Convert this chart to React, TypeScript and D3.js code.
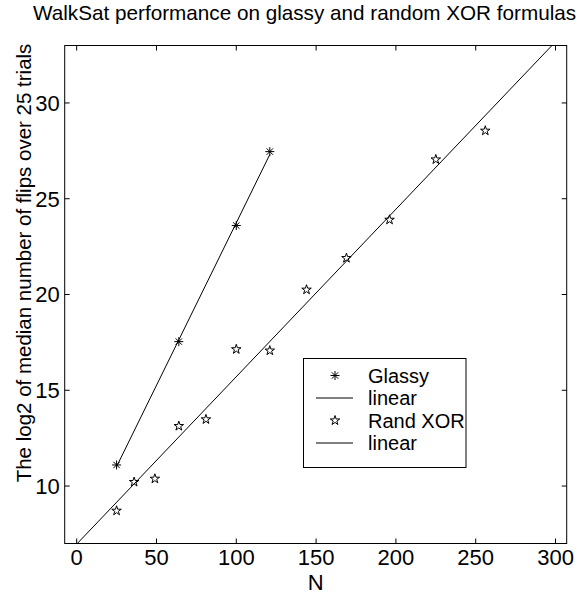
import React, { useEffect, useRef } from 'react';
import * as d3 from 'd3';

// N values and log2 median flips
const glassyN = [25, 64, 100, 121];
const glassyFlips = [11.1, 17.54, 23.6, 27.46];

const xorN = [25, 36, 49, 64, 81, 100, 121, 144, 169, 196, 225, 256];
const xorFlips = [8.71, 10.21, 10.38, 13.13, 13.48, 17.14, 17.07, 20.25, 21.9, 23.9, 27.05, 28.55];

const xTicks = [0, 50, 100, 150, 200, 250, 300];
const yTicks = [10, 15, 20, 25, 30];

const legendItems = ['Glassy', 'linear', 'Rand XOR', 'linear'];

const width = 579;
const height = 592;

const plotLeft = 64.7;
const plotRight = 566.7;
const plotTop = 45.5;
const plotBottom = 543.5;

const fontFamily = '"Liberation Sans", Arial, Helvetica, sans-serif';

// least squares fit
const linearFit = (xs: number[], ys: number[]) => {
    const mx = d3.mean(xs) as number;
    const my = d3.mean(ys) as number;
    const sxy = d3.sum(xs, (x, i) => (x - mx) * (ys[i] - my));
    const sxx = d3.sum(xs, (x) => (x - mx) * (x - mx));
    const slope = sxy / sxx;
    return { slope, intercept: my - slope * mx };
};

// matlab style '*' marker: a plus and a cross
const asteriskSymbol = {
    draw(context: d3.Path, size: number) {
        const r = Math.sqrt(size) / 2;
        const d = r * Math.SQRT1_2;
        context.moveTo(-r, 0); context.lineTo(r, 0);
        context.moveTo(0, -r); context.lineTo(0, r);
        context.moveTo(-d, -d); context.lineTo(d, d);
        context.moveTo(-d, d); context.lineTo(d, -d);
    }
};

const App: React.FC = () => {
    const svgRef = useRef<SVGSVGElement | null>(null);

    useEffect(() => {
        const svg = d3.select(svgRef.current);
        svg.selectAll('*').remove();

        const x = d3.scaleLinear().domain([-7.5, 307]).range([plotLeft, plotRight]);
        const y = d3.scaleLinear().domain([7, 33]).range([plotBottom, plotTop]);

        svg.append('rect').attr('width', width).attr('height', height).attr('fill', 'white');

        svg.append('defs').append('clipPath').attr('id', 'plot-clip')
            .append('rect')
            .attr('x', plotLeft).attr('y', plotTop)
            .attr('width', plotRight - plotLeft).attr('height', plotBottom - plotTop);

        // ticks pointing inward on all four sides
        const tickLen = 5;
        const axes = svg.append('g').attr('stroke', 'black').attr('stroke-width', 1);
        xTicks.forEach(t => {
            axes.append('line').attr('x1', x(t)).attr('x2', x(t)).attr('y1', plotBottom).attr('y2', plotBottom - tickLen);
            axes.append('line').attr('x1', x(t)).attr('x2', x(t)).attr('y1', plotTop).attr('y2', plotTop + tickLen);
        });
        yTicks.forEach(t => {
            axes.append('line').attr('x1', plotLeft).attr('x2', plotLeft + tickLen).attr('y1', y(t)).attr('y2', y(t));
            axes.append('line').attr('x1', plotRight).attr('x2', plotRight - tickLen).attr('y1', y(t)).attr('y2', y(t));
        });

        svg.append('g')
            .attr('font-family', fontFamily).attr('font-size', 22)
            .selectAll('text').data(xTicks).join('text')
            .attr('x', d => x(d)).attr('y', plotBottom + 21)
            .attr('text-anchor', 'middle')
            .text(d => d);

        svg.append('g')
            .attr('font-family', fontFamily).attr('font-size', 22)
            .selectAll('text').data(yTicks).join('text')
            .attr('x', plotLeft - 5).attr('y', d => y(d)).attr('dy', '0.36em')
            .attr('text-anchor', 'end')
            .text(d => d);

        // fits
        const xorFit = linearFit(xorN, xorFlips);
        const glassyFit = linearFit(glassyN, glassyFlips);
        const line = d3.line<[number, number]>().x(d => x(d[0])).y(d => y(d[1]));

        const plot = svg.append('g').attr('clip-path', 'url(#plot-clip)');
        const glassyRange = d3.extent(glassyN) as [number, number];
        plot.append('path')
            .datum(glassyRange.map(n => [n, glassyFit.intercept + glassyFit.slope * n] as [number, number]))
            .attr('fill', 'none').attr('stroke', 'black').attr('stroke-width', 1)
            .attr('d', line);
        plot.append('path')
            .datum([0, 300].map(n => [n, xorFit.intercept + xorFit.slope * n] as [number, number]))
            .attr('fill', 'none').attr('stroke', 'black').attr('stroke-width', 1)
            .attr('d', line);

        const asterisk = d3.symbol().type(asteriskSymbol as d3.SymbolType).size(81);
        const star = d3.symbol().type(d3.symbolStar).size(28);

        plot.append('g').selectAll('path').data(glassyN).join('path')
            .attr('transform', (d, i) => `translate(${x(d)},${y(glassyFlips[i])})`)
            .attr('d', asterisk())
            .attr('fill', 'none').attr('stroke', 'black').attr('stroke-width', 1);

        plot.append('g').selectAll('path').data(xorN).join('path')
            .attr('transform', (d, i) => `translate(${x(d)},${y(xorFlips[i])})`)
            .attr('d', star())
            .attr('fill', 'none').attr('stroke', 'black').attr('stroke-width', 1);

        // frame
        svg.append('rect')
            .attr('x', plotLeft).attr('y', plotTop)
            .attr('width', plotRight - plotLeft).attr('height', plotBottom - plotTop)
            .attr('fill', 'none').attr('stroke', 'black').attr('stroke-width', 1);

        // legend
        const legend = svg.append('g');
        const lgLeft = 303.5, lgTop = 358.5, lgRight = 466, rowH = 22.5;
        legend.append('rect')
            .attr('x', lgLeft).attr('y', lgTop)
            .attr('width', lgRight - lgLeft).attr('height', rowH * 4 + 19)
            .attr('fill', 'white').attr('stroke', 'black').attr('stroke-width', 1);
        legendItems.forEach((label, i) => {
            const cy = lgTop + 17 + i * rowH;
            if (i === 0) {
                legend.append('path').attr('transform', `translate(335,${cy})`).attr('d', asterisk())
                    .attr('fill', 'none').attr('stroke', 'black');
            } else if (i === 2) {
                legend.append('path').attr('transform', `translate(335,${cy})`).attr('d', star())
                    .attr('fill', 'none').attr('stroke', 'black');
            } else {
                legend.append('line').attr('x1', 316).attr('x2', 353).attr('y1', cy).attr('y2', cy)
                    .attr('stroke', 'black');
            }
            legend.append('text')
                .attr('x', 368).attr('y', cy).attr('dy', '0.36em')
                .attr('font-family', fontFamily).attr('font-size', 20)
                .text(label);
        });

        // labels
        svg.append('text')
            .attr('x', 33).attr('y', 20)
            .attr('text-anchor', 'start')
            .attr('font-family', fontFamily).attr('font-size', 20.7)
            .text('WalkSat performance on glassy and random XOR formulas');

        svg.append('text')
            .attr('x', (plotLeft + plotRight) / 2).attr('y', 590)
            .attr('text-anchor', 'middle')
            .attr('font-family', fontFamily).attr('font-size', 22)
            .text('N');

        svg.append('text')
            .attr('transform', `translate(31,263) rotate(-90)`)
            .attr('text-anchor', 'middle')
            .attr('font-family', fontFamily).attr('font-size', 20.5)
            .text('The log2 of median number of flips over 25 trials');
    }, []);

    return (
        <svg ref={svgRef} width={width} height={height} viewBox={`0 0 ${width} ${height}`}
            style={{ position: 'absolute', left: 0, top: 0 }} />
    );
};

export default App;
